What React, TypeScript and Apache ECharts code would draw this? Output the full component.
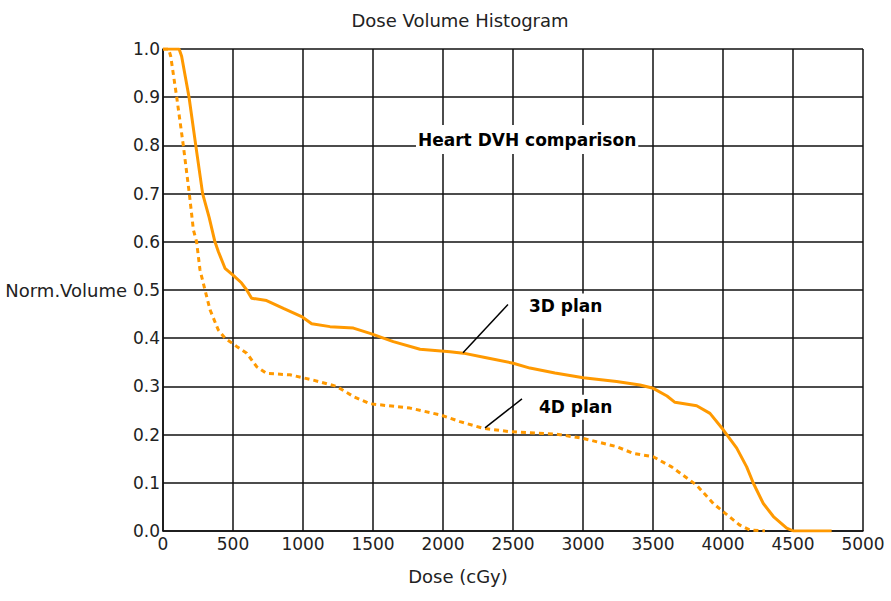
import React, { useEffect, useRef } from "react";
import * as echarts from "echarts";

const dose3D = [0, 115, 133, 186, 234, 283, 330, 371, 395, 443, 500, 560, 598, 633, 740, 860, 990, 1062, 1193, 1360, 1479, 1645, 1836, 2050, 2145, 2300, 2502, 2621, 2800, 3002, 3240, 3407, 3502, 3600, 3657, 3812, 3907, 4002, 4098, 4169, 4217, 4288, 4360, 4455, 4502, 4776];
const vol3D = [1.0, 1.0, 0.985, 0.9, 0.8, 0.7, 0.65, 0.6, 0.58, 0.545, 0.531, 0.515, 0.5, 0.483, 0.478, 0.462, 0.445, 0.43, 0.424, 0.421, 0.41, 0.393, 0.377, 0.372, 0.369, 0.36, 0.348, 0.338, 0.328, 0.318, 0.31, 0.303, 0.296, 0.28, 0.267, 0.26, 0.244, 0.21, 0.172, 0.133, 0.099, 0.057, 0.03, 0.006, 0.0, 0.0];

const dose4D = [0, 40, 55, 98, 145, 188, 217, 240, 264, 300, 336, 395, 443, 526, 598, 669, 740, 907, 1074, 1240, 1360, 1479, 1764, 1979, 2121, 2288, 2479, 2812, 3002, 3240, 3359, 3502, 3633, 3812, 3931, 4014, 4121, 4193, 4300];
const vol4D = [1.0, 1.0, 0.985, 0.9, 0.8, 0.7, 0.625, 0.6, 0.542, 0.5, 0.459, 0.417, 0.4, 0.383, 0.369, 0.341, 0.327, 0.324, 0.313, 0.3, 0.279, 0.264, 0.255, 0.241, 0.227, 0.213, 0.206, 0.201, 0.192, 0.175, 0.161, 0.154, 0.133, 0.095, 0.057, 0.037, 0.012, 0.002, 0.0];

const chartTitle = "Dose Volume Histogram";
const xName = "Dose (cGy)";
const yName = "Norm.Volume";
const headline = "Heart DVH comparison";
const headlineAt = [1807, 0.812];
const label3D = "3D plan";
const label3DAt = [2600, 0.467];
const leader3D = [[2464, 0.47], [2143, 0.37]];
const label4D = "4D plan";
const label4DAt = [2671, 0.257];
const leader4D = [[2564, 0.274], [2300, 0.214]];

const ORANGE = "#ff9900";
const FONT = "DejaVu Sans";

export default function App() {
  const ref = useRef<HTMLDivElement>(null);
  useEffect(() => {
    document.body.style.margin = "0";
    const chart = echarts.init(ref.current!, null, { renderer: "svg" });
    chart.setOption({
      animation: false,
      backgroundColor: "#ffffff",
      title: {
        text: chartTitle,
        left: 455,
        top: 6,
        textAlign: "center",
        textStyle: { fontFamily: FONT, fontSize: 18, fontWeight: "normal", color: "#222" },
      },
      grid: { left: 163, right: 28, top: 49, bottom: 70 },
      xAxis: {
        type: "value",
        min: 0,
        max: 5000,
        interval: 500,
        name: xName,
        nameLocation: "middle",
        nameGap: 36,
        nameTextStyle: { fontFamily: FONT, fontSize: 18, color: "#222", padding: [0, 110, 0, 0] },
        axisLine: { lineStyle: { color: "#111", width: 1.5 } },
        axisTick: { show: false },
        axisLabel: { fontFamily: FONT, fontSize: 17, color: "#222", margin: 4, formatter: (v: number) => String(v) },
        splitLine: { show: true, lineStyle: { color: "#111", width: 1.5 } },
      },
      yAxis: {
        type: "value",
        min: 0,
        max: 1,
        interval: 0.1,
        name: yName,
        nameLocation: "middle",
        nameRotate: 0,
        nameGap: 32,
        nameTextStyle: { fontFamily: FONT, fontSize: 18, color: "#222", padding: [20, 0, 0, 0] },
        axisLine: { show: true, lineStyle: { color: "#111", width: 1.5 } },
        axisTick: { show: false },
        axisLabel: {
          fontFamily: FONT,
          fontSize: 17,
          color: "#222",
          margin: 3,
          padding: [0, 0, 10, 0],
          formatter: (v: number) => v.toFixed(1),
        },
        splitLine: { show: true, lineStyle: { color: "#111", width: 1.5 } },
      },
      series: [
        {
          name: "3D plan",
          type: "line",
          data: dose3D.map((d, i) => [d, vol3D[i]]),
          showSymbol: false,
          symbol: "none",
          lineStyle: { color: ORANGE, width: 3 },
          z: 5,
        },
        {
          name: "4D plan",
          type: "line",
          data: dose4D.map((d, i) => [d, vol4D[i]]),
          showSymbol: false,
          symbol: "none",
          lineStyle: { color: ORANGE, width: 3, type: [5, 4] },
          z: 5,
        },
      ],
    });

    const px = (p: number[]) => chart.convertToPixel({ gridIndex: 0 }, p) as number[];
    const h = px(headlineAt);
    const t3 = px(label3DAt);
    const t4 = px(label4DAt);
    const a3 = px(leader3D[0]);
    const b3 = px(leader3D[1]);
    const a4 = px(leader4D[0]);
    const b4 = px(leader4D[1]);
    const textStyleBold = { fontFamily: FONT, fontSize: 17, fontWeight: "bold", fill: "#000" };
    chart.setOption({
      graphic: [
        {
          type: "text",
          z: 100,
          x: h[0],
          y: h[1],
          style: {
            ...textStyleBold,
            text: headline,
            align: "left",
            verticalAlign: "middle",
            backgroundColor: "#fff",
            padding: [6, 2, 6, 2],
          },
        },
        {
          type: "text",
          z: 100,
          x: t3[0],
          y: t3[1],
          style: { ...textStyleBold, text: label3D, align: "left", verticalAlign: "middle", backgroundColor: "#fff", padding: [4, 2, 4, 2] },
        },
        {
          type: "text",
          z: 100,
          x: t4[0],
          y: t4[1],
          style: { ...textStyleBold, text: label4D, align: "left", verticalAlign: "middle", backgroundColor: "#fff", padding: [4, 2, 4, 2] },
        },
        {
          type: "line",
          z: 100,
          shape: { x1: a3[0], y1: a3[1], x2: b3[0], y2: b3[1] },
          style: { stroke: "#000", lineWidth: 1.5 },
        },
        {
          type: "line",
          z: 100,
          shape: { x1: a4[0], y1: a4[1], x2: b4[0], y2: b4[1] },
          style: { stroke: "#000", lineWidth: 1.5 },
        },
      ],
    });
    return () => chart.dispose();
  }, []);
  return <div ref={ref} style={{ width: 891, height: 601 }} />;
}
